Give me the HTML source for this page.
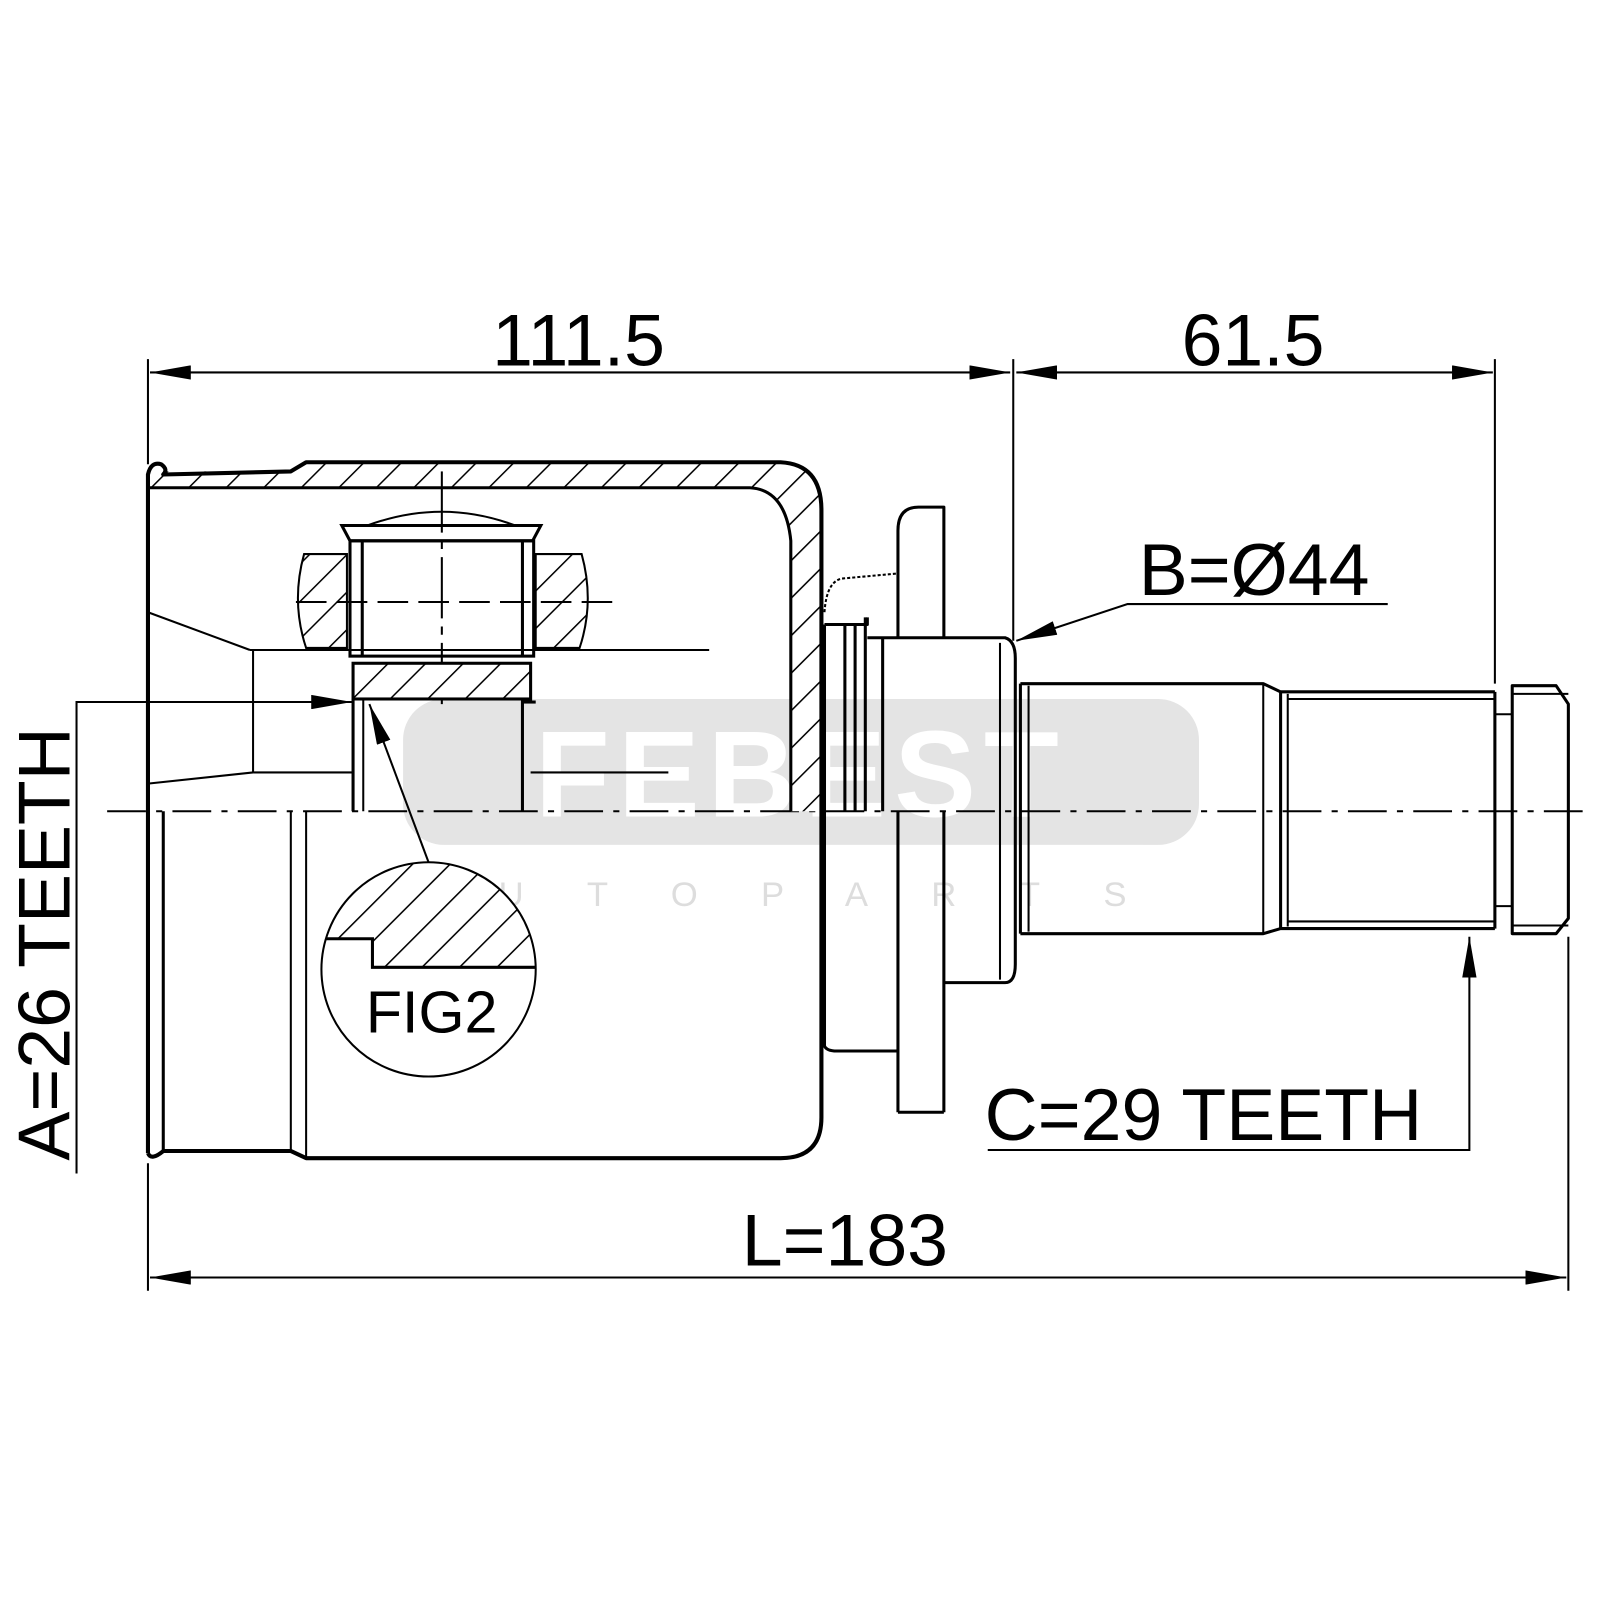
<!DOCTYPE html>
<html><head><meta charset="utf-8"><style>html,body{margin:0;padding:0;background:#fff}svg{display:block}</style></head>
<body>
<svg width="1600" height="1600" viewBox="0 0 1600 1600" xmlns="http://www.w3.org/2000/svg" font-family="Liberation Sans, sans-serif">
<defs>
<pattern id="h" patternUnits="userSpaceOnUse" width="26" height="26" patternTransform="rotate(45)">
<rect width="26" height="26" fill="#fff"/><line x1="0" y1="0" x2="0" y2="26" stroke="#000" stroke-width="3"/></pattern>
<marker id="ar" viewBox="0 0 20 10" refX="20" refY="5" markerWidth="40" markerHeight="14" markerUnits="userSpaceOnUse" orient="auto-start-reverse" preserveAspectRatio="none"><path d="M0,0 L20,5 L0,10 z" fill="#000"/></marker>
</defs>
<g transform="scale(1.0204)">
<rect x="395" y="685" width="780" height="143" rx="40" fill="#e4e4e4"/>
<text x="785" y="800" font-size="120" font-weight="bold" fill="#fff" text-anchor="middle" letter-spacing="8">FEBEST</text>
<text x="785" y="888" font-size="34" fill="#ddd" text-anchor="middle" letter-spacing="62">AUTOPARTS</text>

<g fill="none" stroke="#000" stroke-width="2">
<line x1="145" y1="352" x2="145" y2="455"/>
<line x1="993" y1="352" x2="993" y2="628"/>
<line x1="1465" y1="352" x2="1465" y2="670"/>
<line x1="147" y1="365" x2="990" y2="365" marker-start="url(#ar)" marker-end="url(#ar)"/>
<line x1="996" y1="365" x2="1463" y2="365" marker-start="url(#ar)" marker-end="url(#ar)"/>
<line x1="145" y1="1140" x2="145" y2="1265"/>
<line x1="1537" y1="918" x2="1537" y2="1265"/>
<line x1="147" y1="1252" x2="1535" y2="1252" marker-start="url(#ar)" marker-end="url(#ar)"/>
<polyline points="75,1150 75,688 345,688" marker-end="url(#ar)"/>
<polyline points="1360,592 1105,592 996,628" marker-end="url(#ar)"/>
<polyline points="968,1127 1440,1127 1440,918" marker-end="url(#ar)"/>
<line x1="420" y1="845" x2="362" y2="690" marker-end="url(#ar)"/>
<line x1="105" y1="795" x2="1560" y2="795" stroke-dasharray="38,10,6,10"/>
</g>

<path d="M160,462 L285,462 L300,453 L770,453 Q805,455 805,495 L805,795 L775,795 L775,530 Q770,480 735,478 L145,478 Z" fill="url(#h)" stroke="none"/>
<g fill="none" stroke="#000" stroke-width="4" stroke-linejoin="round">
<path d="M145,1130 L145,465 Q148,452 158,455 Q165,460 160,465 L285,462 L300,453 L765,453 Q805,455 805,500 L805,1095 Q805,1135 765,1135 L300,1135 L285,1128 L160,1128 Q148,1138 145,1130"/>
<path d="M145,478 L735,478 Q770,480 775,530 L775,795" stroke-width="3"/>
<line x1="160" y1="795" x2="160" y2="1128" stroke-width="3"/>
<line x1="285" y1="795" x2="285" y2="1128" stroke-width="2"/>
<line x1="300" y1="795" x2="300" y2="1135" stroke-width="2"/>
<line x1="433" y1="462" x2="433" y2="690" stroke-width="2" stroke-dasharray="60,8,8,8"/>
</g>
<path d="M298,543 L340,543 L340,635 L300,635 Q285,590 298,543 Z" fill="url(#h)" stroke="#000" stroke-width="2"/>
<path d="M525,543 L570,543 Q583,590 568,635 L525,635 Z" fill="url(#h)" stroke="#000" stroke-width="2"/>
<rect x="346" y="650" width="174" height="35" fill="url(#h)" stroke="#000" stroke-width="3"/>
<g fill="none" stroke="#000" stroke-width="3">
<rect x="343" y="530" width="180" height="113"/>
<line x1="355" y1="530" x2="355" y2="643"/><line x1="512" y1="530" x2="512" y2="643"/>
<path d="M335,515 L530,515 L522,530 L343,530 Z"/>
<path d="M360,515 Q433,488 505,515" stroke-width="2"/>
<line x1="290" y1="590" x2="600" y2="590" stroke-width="2" stroke-dasharray="30,10"/>
<line x1="245" y1="637" x2="695" y2="637" stroke-width="2"/>
<line x1="145" y1="600" x2="245" y2="637" stroke-width="2"/>
<line x1="248" y1="637" x2="248" y2="757" stroke-width="2"/>
<line x1="145" y1="768" x2="248" y2="757" stroke-width="2"/>
<line x1="248" y1="757" x2="345" y2="757" stroke-width="2"/>
<line x1="520" y1="757" x2="655" y2="757" stroke-width="2"/>
<line x1="346" y1="685" x2="346" y2="795"/><line x1="356" y1="685" x2="356" y2="795" stroke-width="2"/>
<line x1="512" y1="685" x2="512" y2="795"/>
<line x1="512" y1="688" x2="525" y2="688"/>
</g>
<clipPath id="c"><circle cx="420" cy="950" r="105"/></clipPath>
<path d="M300,840 L540,840 L540,948 L365,948 L365,920 L300,920 Z" fill="url(#h)" clip-path="url(#c)" stroke="#000" stroke-width="3"/>
<circle cx="420" cy="950" r="105" fill="none" stroke="#000" stroke-width="2"/>
<text x="423" y="1012" font-size="58" text-anchor="middle">FIG2</text>

<g fill="none" stroke="#000" stroke-width="3" stroke-linejoin="round">
<path d="M808,612 L850,612 L850,605 M808,612 L808,1025 Q810,1030 820,1030 L880,1030"/>
<line x1="828" y1="612" x2="828" y2="795"/><line x1="838" y1="612" x2="838" y2="795"/><line x1="848" y1="605" x2="848" y2="795"/>
<path d="M850,625 L985,625 Q995,628 995,645 L995,945 Q995,963 985,963 L925,963"/>
<line x1="865" y1="625" x2="865" y2="795"/><line x1="980" y1="630" x2="980" y2="960" stroke-width="2"/>
<line x1="880" y1="795" x2="880" y2="1090"/><line x1="925" y1="795" x2="925" y2="1090"/><line x1="880" y1="1090" x2="925" y2="1090"/>
<path d="M880,625 L880,520 Q880,497 900,497 L925,497 L925,625" stroke-width="3"/>
<path d="M808,600 Q810,570 825,567 L880,562" stroke-width="2" stroke-dasharray="3,2"/>
<path d="M1000,670 L1238,670 L1255,678 L1465,678 M1000,915 L1238,915 L1255,910 L1465,910"/>
<line x1="1000" y1="670" x2="1000" y2="915"/><line x1="1008" y1="672" x2="1008" y2="913" stroke-width="2"/>
<line x1="1238" y1="670" x2="1238" y2="915" stroke-width="2"/><line x1="1255" y1="678" x2="1255" y2="910"/><line x1="1262" y1="680" x2="1262" y2="908" stroke-width="2"/>
<line x1="1262" y1="685" x2="1465" y2="685" stroke-width="2"/><line x1="1262" y1="903" x2="1465" y2="903" stroke-width="2"/>
<line x1="1465" y1="678" x2="1465" y2="910"/>
<line x1="1465" y1="700" x2="1482" y2="700" stroke-width="2"/><line x1="1465" y1="888" x2="1482" y2="888" stroke-width="2"/>
<path d="M1482,672 L1525,672 L1537,690 L1537,900 L1525,915 L1482,915 Z"/>
<line x1="1482" y1="680" x2="1537" y2="680" stroke-width="2"/><line x1="1482" y1="907" x2="1537" y2="907" stroke-width="2"/>
</g>

<g font-size="72" fill="#000">
<text x="567" y="358" text-anchor="middle">111.5</text>
<text x="1228" y="358" text-anchor="middle">61.5</text>
<text x="828" y="1240" text-anchor="middle">L=183</text>
<text x="1116" y="583">B=Ø44</text>
<text x="965" y="1117">C=29 TEETH</text>
<text transform="translate(68,925) rotate(-90)" text-anchor="middle">A=26 TEETH</text>
</g>
</g>
</svg>
</body></html>
